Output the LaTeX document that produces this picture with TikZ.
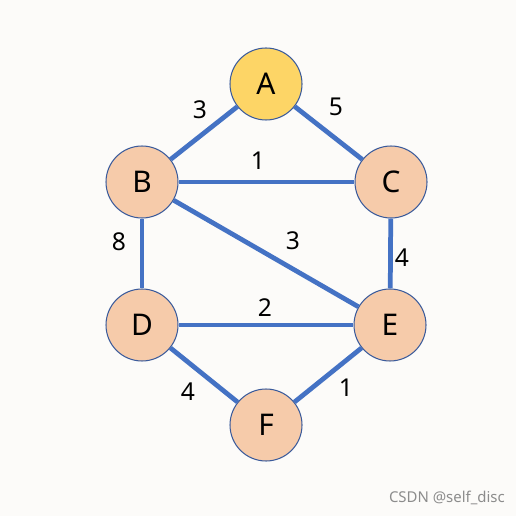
\documentclass[tikz,border=0pt]{standalone}
\usepackage{fontspec}
\setmainfont{Noto Sans}
\usepackage{xcolor}
\usepackage{tikz}
\usetikzlibrary{positioning}

\definecolor{bgcol}{HTML}{FCFBF9}
\definecolor{edgecol}{HTML}{4472C4}
\definecolor{rimcol}{HTML}{3B5B9B}
\definecolor{peach}{HTML}{F6CBAA}
\definecolor{gold}{HTML}{FDD566}

\tikzset{
  vertex/.style={circle, draw=rimcol, line width=0.6pt, minimum size=1.44cm,
    inner sep=0pt, font=\fontsize{17}{17}\selectfont, fill=peach},
  weight/.style={font=\fontsize{14}{14}\selectfont, inner sep=1pt},
  link/.style={draw=edgecol, line width=2.7pt}
}

\begin{document}
\begin{tikzpicture}[x=0.02cm, y=-0.02cm]
  % background
  \fill[bgcol] (0,0) rectangle (516,516);
  \useasboundingbox (0,0) rectangle (516,516);

  % vertices
  \node[vertex, fill=gold] (A) at (266,84) {A};
  \node[vertex] (B) at (142,182) {B};
  \node[vertex] (C) at (391,182) {C};
  \node[vertex] (D) at (142,325) {D};
  \node[vertex] (E) at (390,325) {E};
  \node[vertex] (F) at (266,425) {F};

  % edges
  \draw[link] (A) -- (B);
  \draw[link] (A) -- (C);
  \draw[link] (B) -- (C);
  \draw[link] (B) -- (D);
  \draw[link] (B) -- (E);
  \draw[link] (C) -- (E);
  \draw[link] (D) -- (E);
  \draw[link] (D) -- (F);
  \draw[link] (E) -- (F);

  % weights
  \node[weight] (wAB) at (200,110) {3};
  \node[weight] (wAC) at (336,107) {5};
  \node[weight] (wBC) at (258,161) {1};
  \node[weight] (wBD) at (119,242) {8};
  \node[weight] (wBE) at (293,241) {3};
  \node[weight] (wCE) at (402,258) {4};
  \node[weight] (wDE) at (265,308) {2};
  \node[weight] (wDF) at (188,392) {4};
  \node[weight] (wEF) at (346,388) {1};

  % watermark
  \node[text=black!45, font=\fontsize{8.5}{8.5}\selectfont, anchor=east] (mark) at (511,498) {CSDN @self\_disc};
\end{tikzpicture}
\end{document}
